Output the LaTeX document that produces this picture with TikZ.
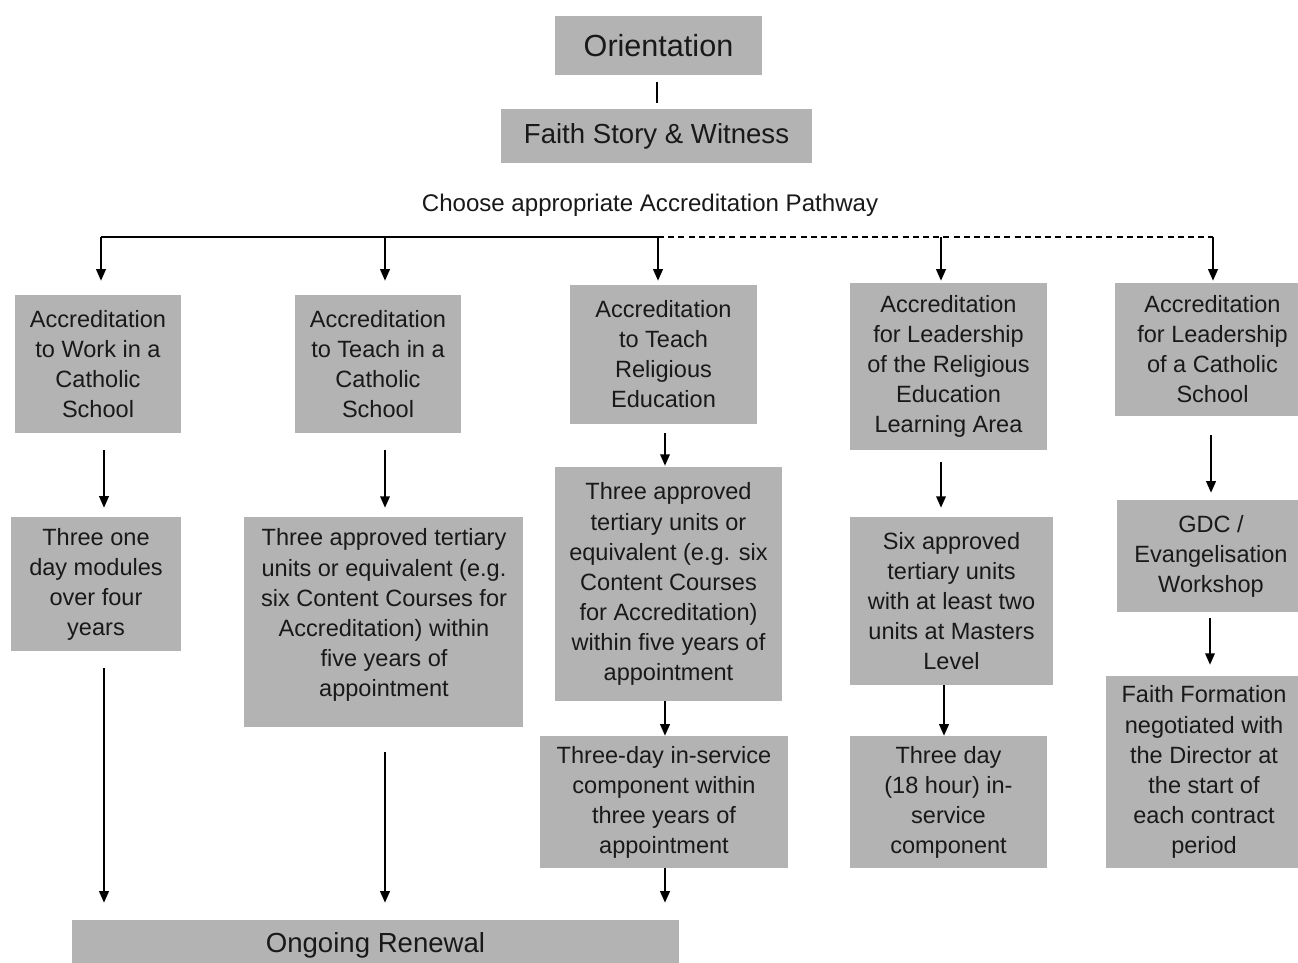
\documentclass[tikz,border=0pt]{standalone}
\usepackage{fontspec}
\setmainfont{Liberation Sans}
\usetikzlibrary{arrows.meta}
\definecolor{boxgray}{RGB}{179,179,179}
\definecolor{ink}{RGB}{25,25,25}
\tikzset{
  box/.style={fill=boxgray, draw=none, inner sep=0pt, align=center, text=ink,
    font=\fontsize{13.4pt}{17.1pt}\selectfont},
  boxtext/.style={inner sep=0pt, align=center, text=ink,
    font=\fontsize{13.4pt}{17.1pt}\selectfont},
  conn/.style={draw=black, line width=0.9pt},
  arr/.style={conn, -{Triangle[width=5.5pt,length=6.5pt]}},
  dashline/.style={conn, dash pattern=on 3.4pt off 2.4pt},
}
\begin{document}
\begin{tikzpicture}[x=0.02cm, y=-0.02cm]
\useasboundingbox (0,0) rectangle (1298,963);
% top
\node[box, minimum width=4.14cm, minimum height=1.18cm, font=\fontsize{17.4pt}{20pt}\selectfont] (ori) at (658.5,45.5) {Orientation};
\node[box, minimum width=6.22cm, minimum height=1.08cm, font=\fontsize{15.7pt}{19pt}\selectfont] (fsw) at (656.5,136) {Faith Story \& Witness};
\node[text=ink, inner sep=0pt, font=\fontsize{13.7pt}{17pt}\selectfont] (choose) at (650,205) {Choose appropriate Accreditation Pathway};
% row 1
\node[box, minimum width=3.32cm, minimum height=2.76cm] (b1) at (98,364) {Accreditation\\to Work in a\\Catholic\\School};
\node[box, minimum width=3.32cm, minimum height=2.76cm] (b2) at (378,364) {Accreditation\\to Teach in a\\Catholic\\School};
\node[box, minimum width=3.74cm, minimum height=2.78cm] (b3) at (663.5,354.5) {Accreditation\\to Teach\\Religious\\Education};
\node[box, minimum width=3.94cm, minimum height=3.34cm] (b4) at (948.5,366.5) {Accreditation\\for Leadership\\of the Religious\\Education\\Learning Area};
\node[box, minimum width=3.9cm, minimum height=2.66cm] (b5) at (1212.5,349.5) {Accreditation\\for Leadership\\of a Catholic\\School};
% row 2
\node[box, minimum width=3.4cm, minimum height=2.68cm] (c1) at (96,584) {Three one\\day modules\\over four\\years};
\node[box, minimum width=5.58cm, minimum height=4.2cm] (c2) at (383.5,622) {};
\node[boxtext] (c2t) at (384,615) {Three approved tertiary\\units or equivalent (e.g.\\six Content Courses for\\Accreditation) within\\five years of\\appointment};
\node[box, minimum width=4.54cm, minimum height=4.68cm] (c3) at (668.5,584) {Three approved\\tertiary units or\\equivalent (e.g. six\\Content Courses\\for Accreditation)\\within five years of\\appointment};
\node[box, minimum width=4.06cm, minimum height=3.36cm] (c4) at (951.5,601) {Six approved\\tertiary units\\with at least two\\units at Masters\\Level};
\node[box, minimum width=3.76cm, minimum height=2.24cm] (c5) at (1211,556) {GDC /\\Evangelisation\\Workshop};
% row 3
\node[box, minimum width=4.96cm, minimum height=2.64cm] (d3) at (664,802) {Three-day in-service\\component within\\three years of\\appointment};
\node[box, minimum width=3.94cm, minimum height=2.64cm] (d4) at (948.5,802) {Three day\\(18 hour) in-\\service\\component};
\node[box, minimum width=3.92cm, minimum height=3.84cm] (d5) at (1204,772) {Faith Formation\\negotiated with\\the Director at\\the start of\\each contract\\period};
% bottom
\node[box, minimum width=12.14cm, minimum height=1.0cm, font=\fontsize{15.7pt}{19pt}\selectfont] (og) at (375.5,945) {Ongoing Renewal};
% guides
\coordinate (xo) at (657,0);
\coordinate (t1) at (101,237);
\coordinate (t2) at (385,237);
\coordinate (t3) at (658,237);
\coordinate (t4) at (941,237);
\coordinate (t5) at (1213,237);
\coordinate (x1) at (104,0);
\coordinate (x2) at (385,0);
\coordinate (x3) at (665,0);
\coordinate (x4) at (941,0);
\coordinate (x4b) at (944,0);
\coordinate (x5) at (1211,0);
\coordinate (x5b) at (1210,0);
% connectors
\draw[conn, shorten <=0.14cm, shorten >=0.12cm] (ori.south -| xo) -- (fsw.north -| xo);
\draw[conn] (t1) -- (t3);
\draw[dashline] (t3) -- (t5);
\draw[arr, shorten >=0.28cm] (t1) -- (t1 |- b1.north);
\draw[arr, shorten >=0.28cm] (t2) -- (t2 |- b2.north);
\draw[arr, shorten >=0.08cm] (t3) -- (t3 |- b3.north);
\draw[arr, shorten >=0.04cm] (t4) -- (t4 |- b4.north);
\draw[arr, shorten >=0.04cm] (t5) -- (t5 |- b5.north);
% column 1
\draw[arr, shorten <=0.34cm, shorten >=0.18cm] (b1.south -| x1) -- (c1.north -| x1);
\draw[arr, shorten <=0.34cm, shorten >=0.34cm] (c1.south -| x1) -- (og.north -| x1);
% column 2
\draw[arr, shorten <=0.34cm, shorten >=0.18cm] (b2.south -| x2) -- (c2.north -| x2);
\draw[arr, shorten <=0.5cm, shorten >=0.34cm] (c2.south -| x2) -- (og.north -| x2);
% column 3
\draw[arr, shorten <=0.18cm, shorten >=0.02cm] (b3.south -| x3) -- (c3.north -| x3);
\draw[arr] (c3.south -| x3) -- (d3.north -| x3);
\draw[arr, shorten >=0.34cm] (d3.south -| x3) -- (og.north -| x3);
% column 4
\draw[arr, shorten <=0.24cm, shorten >=0.18cm] (b4.south -| x4) -- (c4.north -| x4);
\draw[arr] (c4.south -| x4b) -- (d4.north -| x4b);
% column 5
\draw[arr, shorten <=0.38cm, shorten >=0.14cm] (b5.south -| x5) -- (c5.north -| x5);
\draw[arr, shorten <=0.12cm, shorten >=0.22cm] (c5.south -| x5b) -- (d5.north -| x5b);
\end{tikzpicture}
\end{document}
